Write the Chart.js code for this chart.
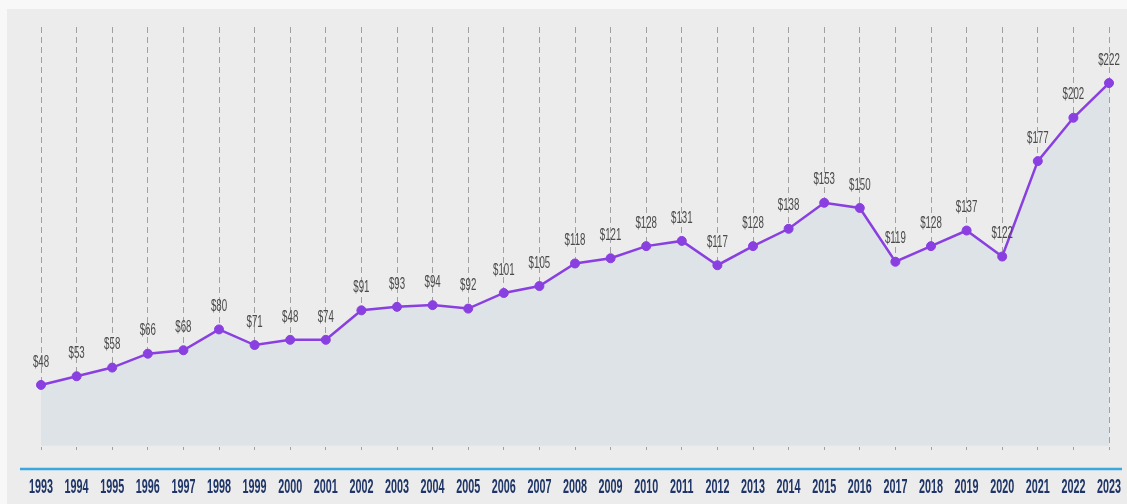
<!DOCTYPE html>
<html lang="en">
<head>
    <meta charset="UTF-8">
    <title>Price by year</title>
    <script src="https://cdn.jsdelivr.net/npm/chart.js@4.4.0/dist/chart.umd.min.js"></script>
    <style>
        html, body { margin: 0; padding: 0; background: #f8f8f8; }
        .panel {
            position: absolute;
            left: 7px;
            top: 9px;
            width: 1120px;
            height: 495px;
            background: #ececec;
        }
    </style>
</head>
<body>
<div class="panel">
    <canvas id="myChart" width="1120" height="495"></canvas>
</div>

<script>
// data
var years = ['1993','1994','1995','1996','1997','1998','1999','2000','2001','2002',
             '2003','2004','2005','2006','2007','2008','2009','2010','2011','2012',
             '2013','2014','2015','2016','2017','2018','2019','2020','2021','2022','2023'];
var prices = [48, 53, 58, 66, 68, 80, 71, 74, 74, 91,
              93, 94, 92, 101, 105, 118, 121, 128, 131, 117,
              128, 138, 153, 150, 119, 128, 137, 122, 177, 202, 222];
// text printed above each point (2000 is printed as $48 in the original)
var priceLabels = ['$48','$53','$58','$66','$68','$80','$71','$48','$74','$91',
                   '$93','$94','$92','$101','$105','$118','$121','$128','$131','$117',
                   '$128','$138','$153','$150','$119','$128','$137','$122','$177','$202','$222'];

var fontFam = '"Liberation Sans", Arial, sans-serif';

// condensed text: no narrow font is installed, so squeeze it horizontally
function narrowText(ctx, text, x, y, sx) {
    ctx.save();
    ctx.translate(x, y);
    ctx.scale(sx, 1);
    ctx.fillText(text, 0, 0);
    ctx.restore();
}

// draws the $ values above the points
var valueLabels = {
    id: 'valueLabels',
    afterDatasetsDraw: function(chart) {
        var ctx = chart.ctx;
        var meta = chart.getDatasetMeta(0);
        ctx.save();
        ctx.font = '17px ' + fontFam;
        ctx.fillStyle = '#4a4a4a';
        ctx.textAlign = 'center';
        ctx.textBaseline = 'middle';
        meta.data.forEach(function(pt, i) {
            narrowText(ctx, priceLabels[i], pt.x, pt.y - 23, 0.57);
        });
        ctx.restore();
    }
};

// blue rule and the year labels under the plot
var yearAxis = {
    id: 'yearAxis',
    afterDraw: function(chart) {
        var ctx = chart.ctx;
        var x = chart.scales.x;
        var bottom = chart.chartArea.bottom;
        ctx.save();
        ctx.strokeStyle = '#3aa8e0';
        ctx.lineWidth = 2.5;
        ctx.beginPath();
        ctx.moveTo(13, bottom + 19);
        ctx.lineTo(1115, bottom + 19);
        ctx.stroke();

        ctx.font = 'bold 20px ' + fontFam;
        ctx.fillStyle = '#1f3567';
        ctx.textAlign = 'center';
        ctx.textBaseline = 'middle';
        years.forEach(function(yr, i) {
            narrowText(ctx, yr, x.getPixelForValue(i), bottom + 37, 0.54);
        });
        ctx.restore();
    }
};

var ctx = document.getElementById('myChart').getContext('2d');
var myChart = new Chart(ctx, {
    type: 'line',
    data: {
        labels: years,
        datasets: [{
            data: prices,
            borderColor: '#8a3fe0',
            borderWidth: 2.5,
            backgroundColor: '#dde3e6',
            fill: { value: 13 },
            tension: 0,
            pointRadius: 4.5,
            pointBackgroundColor: '#8a3fe0',
            pointBorderColor: '#8a3fe0',
            pointBorderWidth: 1
        }]
    },
    options: {
        responsive: false,
        animation: false,
        devicePixelRatio: 1,
        layout: {
            padding: { left: 34, top: 18, right: 18, bottom: 54 }
        },
        plugins: {
            legend: { display: false },
            tooltip: { enabled: false }
        },
        scales: {
            x: {
                offset: false,
                border: { display: false, dash: [6, 4] },
                grid: {
                    color: '#a0a0a0',
                    lineWidth: 1,
                    drawTicks: false
                },
                ticks: { display: false }
            },
            y: {
                display: false,
                min: 10.5,
                max: 254.3
            }
        }
    },
    plugins: [valueLabels, yearAxis]
});
</script>
</body>
</html>
